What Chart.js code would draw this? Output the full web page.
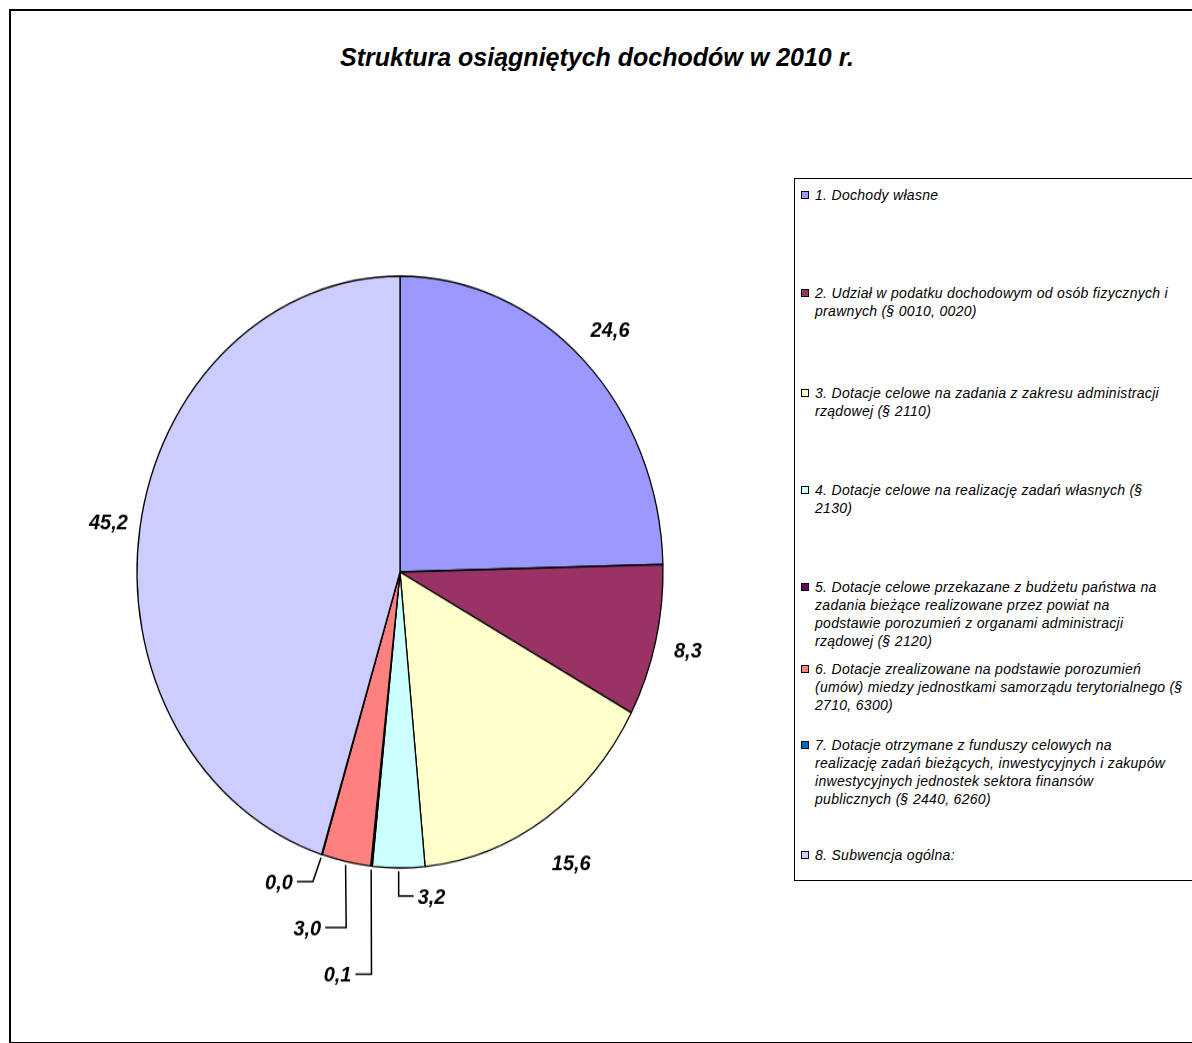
<!DOCTYPE html>
<html>
<head>
<meta charset="utf-8">
<script src="https://cdn.jsdelivr.net/npm/chart.js@4.4.1/dist/chart.umd.min.js"></script>
<style>
  body { margin: 0; width: 1192px; height: 1043px; overflow: hidden; background: #fff; position: relative; font-family: "Liberation Sans", Arial, sans-serif; }
  #frame { position: absolute; left: 9px; top: 9px; width: 1300px; height: 1031px; border: 2px solid #000; }
  #title { position: absolute; left: 0; top: 42px; width: 1194px; text-align: center; font: italic bold 25px "Liberation Sans"; line-height: 30px; }
  #wrap { position: absolute; left: 20px; top: 192px; width: 760px; height: 760px; transform: scaleY(1.125); transform-origin: 380px 380px; }
  #legend { position: absolute; left: 794px; top: 178px; width: 500px; height: 701px; border: 1px solid #000; }
  .item { position: absolute; left: 6px; font: italic 14px "Liberation Sans"; letter-spacing: 0.3px; line-height: 18px; color: #000; }
  .box { position: absolute; left: 0; top: 5px; width: 6px; height: 6px; border: 1px solid #000; }
  .txt { margin-left: 14px; white-space: pre; }
</style>
</head>
<body>
<div id="frame"></div>
<div id="title">Struktura osiągniętych dochodów w 2010 r.</div>
<div id="wrap"><canvas id="chart" width="760" height="760"></canvas></div>
<div id="legend"></div>

<script>
// dane z wykresu (%)
const categories = [
  ['1. Dochody własne'],
  ['2. Udział w podatku dochodowym od osób fizycznych i', 'prawnych (§ 0010, 0020)'],
  ['3. Dotacje celowe na zadania z zakresu administracji', 'rządowej (§ 2110)'],
  ['4. Dotacje celowe na realizację zadań własnych (§', '2130)'],
  ['5. Dotacje celowe przekazane z budżetu państwa na', 'zadania bieżące realizowane przez powiat na', 'podstawie porozumień z organami administracji', 'rządowej (§ 2120)'],
  ['6. Dotacje zrealizowane na podstawie porozumień', '(umów) miedzy jednostkami samorządu terytorialnego (§', '2710, 6300)'],
  ['7. Dotacje otrzymane z funduszy celowych na', 'realizację zadań bieżących, inwestycyjnych i zakupów', 'inwestycyjnych jednostek sektora finansów', 'publicznych (§ 2440, 6260)'],
  ['8. Subwencja ogólna:']
];
const values = [24.6, 8.3, 15.6, 3.2, 0.1, 3.0, 0.04, 45.2];
const colors = ['#9999FF', '#993366', '#FFFFCC', '#CCFFFF', '#660066', '#FF8080', '#0066CC', '#CCCCFF'];

// wygląd etykiet
const SY = 1.125; // spłaszczenie koła w elipsę
const labelGap = [38, 33, 47, 0, 0, 0, 0, 32];
const leaders = [null, null, null,
  { drop: 28, bend: 0, run: 15 },
  { drop: 108, bend: 0, run: -16 },
  { drop: 66, bend: 0, run: -21 },
  { drop: 27, bend: -9, run: -16 },
  null];
const legendTops = [7, 105, 205, 302, 399, 481, 557, 667];

const pieLabels = {
  id: 'pieLabels',
  afterDatasetsDraw(chart) {
    const ctx = chart.ctx;
    const meta = chart.getDatasetMeta(0);
    ctx.save();
    ctx.font = 'italic bold 20px "Liberation Sans"';
    ctx.fillStyle = '#000';
    ctx.strokeStyle = '#000';
    ctx.lineWidth = 1.5;
    meta.data.forEach((arc, i) => {
      const { x, y, startAngle, endAngle, outerRadius } =
        arc.getProps(['x', 'y', 'startAngle', 'endAngle', 'outerRadius'], true);
      const mid = (startAngle + endAngle) / 2;
      const text = values[i].toFixed(1).replace('.', ',');
      const ex = x + Math.cos(mid) * outerRadius;
      const ey = y + Math.sin(mid) * outerRadius;
      let tx, ty, align = 'center';
      const ld = leaders[i];
      if (ld) {
        const sx = x + Math.cos(mid) * (outerRadius + 3);
        const sy = y + Math.sin(mid) * (outerRadius + 3);
        const bx = ex + ld.bend, by = ey + ld.drop / SY;
        const hx = bx + ld.run;
        ctx.beginPath();
        ctx.moveTo(sx, sy);
        ctx.lineTo(bx, by);
        ctx.lineTo(hx, by);
        ctx.stroke();
        tx = hx + Math.sign(ld.run) * 4;
        ty = by;
        align = ld.run > 0 ? 'left' : 'right';
      } else {
        const d = outerRadius + labelGap[i];
        tx = x + Math.cos(mid) * d;
        ty = y + Math.sin(mid) * d;
      }
      ctx.save();
      ctx.translate(tx, ty);
      ctx.scale(1, 1 / SY);
      ctx.textAlign = align;
      ctx.textBaseline = 'middle';
      ctx.fillText(text, 0, 2);
      ctx.restore();
    });
    ctx.restore();
  }
};

const chart = new Chart(document.getElementById('chart'), {
  type: 'pie',
  data: {
    labels: categories,
    datasets: [{
      data: values,
      backgroundColor: colors,
      borderColor: '#000',
      borderWidth: 1.3,
      radius: 263,
      hoverOffset: 0
    }]
  },
  options: {
    responsive: false,
    animation: false,
    events: [],
    layout: { padding: 0 },
    plugins: {
      legend: { display: false },
      tooltip: { enabled: false },
      title: { display: false }
    }
  },
  plugins: [pieLabels]
});

// legenda z danych wykresu
const legend = document.getElementById('legend');
chart.data.labels.forEach((lines, i) => {
  const item = document.createElement('div');
  item.className = 'item';
  item.style.top = legendTops[i] + 'px';
  const box = document.createElement('div');
  box.className = 'box';
  box.style.background = chart.data.datasets[0].backgroundColor[i];
  const txt = document.createElement('div');
  txt.className = 'txt';
  txt.textContent = lines.join('\n');
  item.appendChild(box);
  item.appendChild(txt);
  legend.appendChild(item);
});
</script>
</body>
</html>
